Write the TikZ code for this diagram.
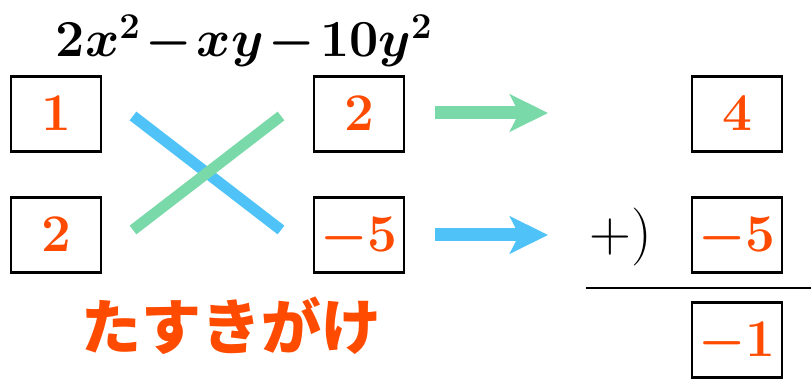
\documentclass[tikz,border=0pt]{standalone}
\usepackage{fix-cm}
\usepackage{fontspec}
\newfontfamily\jpfont{Noto Sans CJK JP}
\usetikzlibrary{arrows.meta}

\begin{document}
\begin{tikzpicture}[x=10pt, y=10pt,
    numbox/.style={draw, line width=2.2pt, minimum width=90pt, minimum height=75pt,
        inner sep=0pt, text height=34pt, text depth=0pt, text=numColor,
        font=\fontsize{53}{64}\selectfont\boldmath},
    crossline/.style={line width=11pt},
    bigarrow/.style={line width=13pt, -{Stealth[length=38pt, width=37pt, inset=9pt]}}]

% ---------------------------------------------------------------------------
% Color aliases
% ---------------------------------------------------------------------------
\definecolor{numColor}{HTML}{FF4B00}
\definecolor{greenColor}{HTML}{7AD9A9}
\definecolor{blueColor}{HTML}{4FC3F7}

\useasboundingbox (0, 0) rectangle (81.1, 37.9);

% ---------------------------------------------------------------------------
% Expression to factor
% ---------------------------------------------------------------------------
\node[anchor=base, font=\fontsize{52}{62}\selectfont\boldmath] (expr) at (24.4, 32.2)
    {\medmuskip=1.5mu $2x^2-xy-10y^2$};

% ---------------------------------------------------------------------------
% Coefficient boxes
% ---------------------------------------------------------------------------
\node[numbox] (a1) at (5.6, 26.5) {$1$};
\node[numbox] (a2) at (5.6, 14.4) {$2$};
\node[numbox] (b1) at (35.9, 26.5) {$2$};
\node[numbox] (b2) at (35.9, 14.4) {$-5$};

% ===========================================================================
%  CROSS  -- blue underneath, green on top
% ===========================================================================
\coordinate (xTL) at (13.3, 26.3);
\coordinate (xBR) at (28.1, 14.9);
\coordinate (xBL) at (13.3, 14.9);
\coordinate (xTR) at (28.1, 26.3);

\draw[crossline, blueColor] (xTL) -- (xBR);
\draw[crossline, greenColor] (xBL) -- (xTR);

% ---------------------------------------------------------------------------
% Products
% ---------------------------------------------------------------------------
\coordinate (gS) at (43.5, 26.6);
\coordinate (gE) at (54.8, 26.6);
\coordinate (bS) at (43.5, 14.4);
\coordinate (bE) at (54.8, 14.4);

\draw[bigarrow, greenColor] (gS) -- (gE);
\draw[bigarrow, blueColor] (bS) -- (bE);

% ===========================================================================
%  SUM  -- right column
% ===========================================================================
\node[numbox] (c1) at (73.7, 26.5) {$4$};
\node[numbox] (c2) at (73.7, 14.4) {$-5$};
\node[numbox] (c3) at (73.7, 3.9) {$-1$};

\node[anchor=base, font=\fontsize{58}{68}\selectfont] (plus) at (62.1, 12.75) {$+)$};

\coordinate (rL) at (58.6, 9.1);
\coordinate (rR) at (81.1, 9.1);
\draw[line width=2.5pt] (rL) -- (rR);

% ---------------------------------------------------------------------------
% Method name
% ---------------------------------------------------------------------------
\node[text=numColor, font=\jpfont\bfseries\fontsize{60}{72}\selectfont] (name) at (23.1, 5.3)
    {たすきがけ};

\end{tikzpicture}
\end{document}
